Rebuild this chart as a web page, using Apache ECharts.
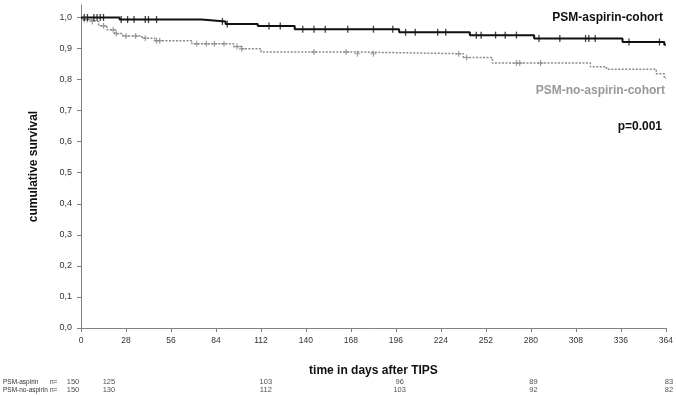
<!DOCTYPE html>
<html><head><meta charset="utf-8">
<script src="https://cdn.jsdelivr.net/npm/echarts@6/dist/echarts.min.js"></script>
<style>html,body{margin:0;padding:0;background:#fff}#c{width:676px;height:396px}</style>
</head><body><div id="c"></div>
<script>
// ---- data ----
const yTicks = [0, 0.1, 0.2, 0.3, 0.4, 0.5, 0.6, 0.7, 0.8, 0.9, 1.0];
const aspirinSteps = [[0,1.0],[24,0.993],[75,0.987],[90,0.979],[110,0.972],[133,0.962],[198,0.952],[242,0.943],[282,0.932],[337,0.921],[363,0.912],[364,0.912]];
const noAspirinSteps = [[0,1.0],[1,0.993],[5,0.987],[11,0.973],[16,0.960],[21,0.948],[26,0.940],[38,0.933],[46,0.925],[69,0.915],[95,0.906],[100,0.899],[112,0.889],[168,0.883],[238,0.871],[256,0.853],[317,0.841],[327,0.833],[358,0.819],[363,0.804],[364,0.804]];
const aspirinCensored = [2,4,8,10,12,14,25,29,33,40,42,47,88,91,117,124,138,145,152,166,182,194,202,208,222,227,246,249,258,264,271,285,298,314,316,320,341,360];
const noAspirinCensored = [2,4,7,14,20,22,28,34,40,47,49,72,78,83,89,97,100,145,165,172,182,235,240,271,273,286];
const riskRows = ['PSM-aspirin', 'PSM-no-aspirin'];
const riskDays = [-5.6, 16.7, 114, 197, 280, 364];
const aspirinAtRisk = [150, 125, 103, 96, 89, 83];
const noAspirinAtRisk = [150, 130, 112, 103, 92, 82];

function valueAt(steps, day) {
  let v = steps[0][1];
  for (const s of steps) { if (s[0] <= day) v = s[1]; }
  return v;
}
const FONT = '"Liberation Sans", Arial, sans-serif';
const chart = echarts.init(document.getElementById('c'));
chart.setOption({
  animation: false,
  backgroundColor: '#fff',
  textStyle: { fontFamily: FONT },
  grid: [
    { left: 81, right: 7, top: 5, bottom: 68 },
    { left: 81, right: 7, top: 378, height: 16 }
  ],
  xAxis: [
    { type: 'value', gridIndex: 0, min: 0, max: 364, interval: 28,
      axisLine: { lineStyle: { color: '#808080', width: 1 } },
      axisTick: { length: 4, lineStyle: { color: '#808080' } },
      axisLabel: { fontSize: 8.5, color: '#333', margin: 8, fontFamily: FONT },
      splitLine: { show: false },
      name: 'time in days after TIPS', nameLocation: 'middle', nameGap: 37,
      nameTextStyle: { fontSize: 12, fontWeight: 'bold', color: '#111', fontFamily: FONT } },
    { type: 'value', gridIndex: 1, min: 0, max: 364, show: false }
  ],
  yAxis: [
    { type: 'value', gridIndex: 0, min: 0, max: 1.04, interval: 0.1,
      axisLine: { show: true, lineStyle: { color: '#808080', width: 1 } },
      axisTick: { show: true, length: 4, customValues: yTicks, lineStyle: { color: '#808080' } },
      axisLabel: { customValues: yTicks, fontSize: 9, color: '#333', margin: 9, fontFamily: FONT,
        formatter: v => v.toFixed(1).replace('.', ',') },
      splitLine: { show: false },
      name: 'cumulative survival', nameLocation: 'middle', nameGap: 41, nameRotate: 90,
      nameTextStyle: { fontSize: 12, fontWeight: 'bold', color: '#111', fontFamily: FONT } },
    { type: 'category', gridIndex: 1, data: riskRows, inverse: true,
      axisLine: { show: false }, axisTick: { show: false },
      axisLabel: { interval: 0, hideOverlap: false, margin: 79, align: 'left', color: '#333', fontSize: 6.5, fontFamily: FONT,
        formatter: v => '{a|' + v + '}{b|n=}',
        rich: { a: { width: 47, fontSize: 6.5, color: '#333' }, b: { fontSize: 6.5, color: '#333' } } } }
  ],
  series: [
    { type: 'line', name: 'PSM-aspirin-cohort', step: 'end', showSymbol: false, xAxisIndex: 0, yAxisIndex: 0,
      data: aspirinSteps, lineStyle: { color: '#111', width: 2 }, z: 3 },
    { type: 'line', name: 'PSM-no-aspirin-cohort', step: 'end', showSymbol: false, xAxisIndex: 0, yAxisIndex: 0,
      data: noAspirinSteps, lineStyle: { color: '#8a8a8a', width: 1.5, type: [2, 1.5] }, z: 2 },
    { type: 'scatter', xAxisIndex: 0, yAxisIndex: 0, symbol: 'rect', symbolSize: [1.3, 7],
      itemStyle: { color: '#111' }, z: 4,
      data: aspirinCensored.map(d => [d, valueAt(aspirinSteps, d)]) },
    { type: 'scatter', xAxisIndex: 0, yAxisIndex: 0, symbol: 'path://M4,0H6V10H4ZM0,4H10V6H0Z', symbolSize: 6,
      itemStyle: { color: '#8a8a8a' }, z: 3,
      data: noAspirinCensored.map(d => [d, valueAt(noAspirinSteps, d)]) },
    { type: 'scatter', xAxisIndex: 1, yAxisIndex: 1, clip: false, symbolSize: 1,
      itemStyle: { color: 'transparent' },
      label: { show: true, position: 'inside', formatter: p => String(p.value[2]), fontSize: 7.5, color: '#222', fontFamily: FONT },
      data: riskDays.map((d, i) => [d, riskRows[0], aspirinAtRisk[i]]) },
    { type: 'scatter', xAxisIndex: 1, yAxisIndex: 1, clip: false, symbolSize: 1,
      itemStyle: { color: 'transparent' },
      label: { show: true, position: 'inside', formatter: p => String(p.value[2]), fontSize: 7.5, color: '#222', fontFamily: FONT },
      data: riskDays.map((d, i) => [d, riskRows[1], noAspirinAtRisk[i]]) }
  ],
  graphic: [
    { type: 'text', right: 13, top: 12, style: { text: 'PSM-aspirin-cohort', font: 'bold 12px ' + FONT, fill: '#111' } },
    { type: 'text', right: 11, top: 85, style: { text: 'PSM-no-aspirin-cohort', font: 'bold 12px ' + FONT, fill: '#999' } },
    { type: 'text', right: 14, top: 121, style: { text: 'p=0.001', font: 'bold 12px ' + FONT, fill: '#111' } }
  ]
});
</script>
</body></html>
